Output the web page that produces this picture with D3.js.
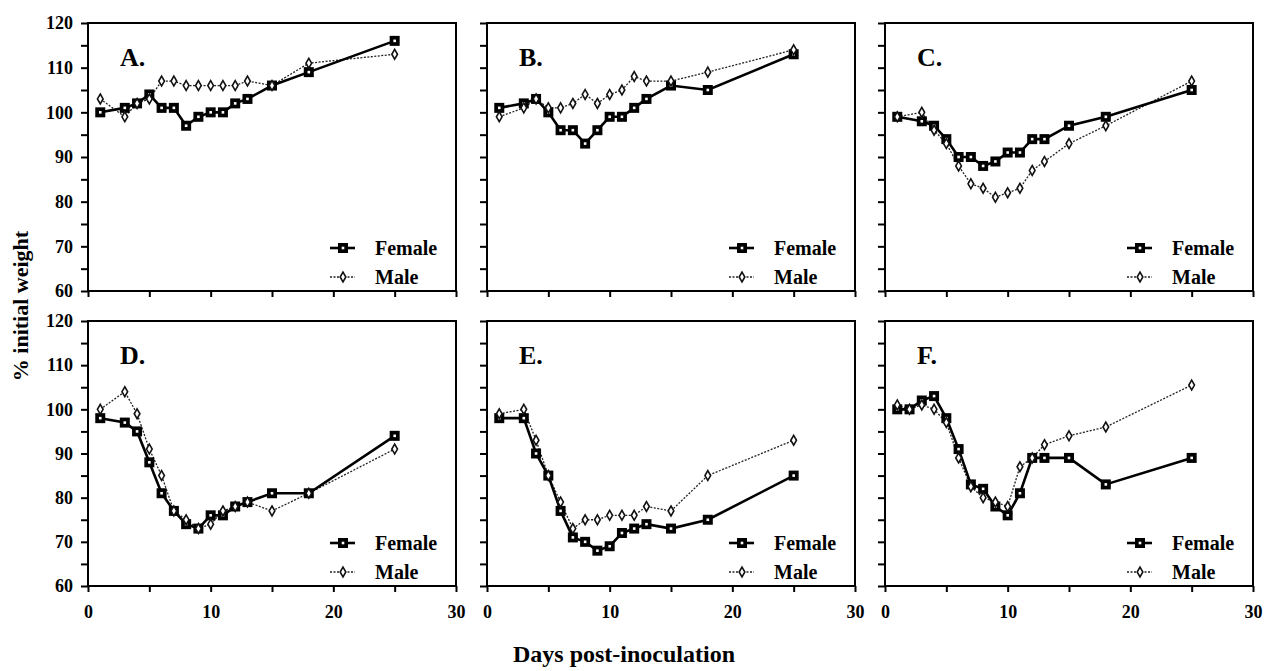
<!DOCTYPE html>
<html>
<head>
<meta charset="utf-8">
<script src="https://cdn.jsdelivr.net/npm/d3@7"></script>
<style>
  html, body { margin: 0; padding: 0; background: #fff; }
  svg { display: block; }
  text { font-family: "Liberation Serif", "Times New Roman", serif; font-weight: bold; fill: #000; }
</style>
</head>
<body>
<svg id="chart" width="1272" height="671"></svg>
<script>
// ---- data ----
const panelLabels = ["A.", "B.", "C.", "D.", "E.", "F."];
const days = [1, 3, 4, 5, 6, 7, 8, 9, 10, 11, 12, 13, 15, 18, 25];
const daysF = [1, 2, 3, 4, 5, 6, 7, 8, 9, 10, 11, 12, 13, 15, 18, 25];

const femaleA = [100, 101, 102, 104, 101, 101, 97, 99, 100, 100, 102, 103, 106, 109, 116];
const maleA   = [103, 99, 102, 103, 107, 107, 106, 106, 106, 106, 106, 107, 106, 111, 113];
const femaleB = [101, 102, 103, 100, 96, 96, 93, 96, 99, 99, 101, 103, 106, 105, 113];
const maleB   = [99, 101, 103, 101, 101, 102, 104, 102, 104, 105, 108, 107, 107, 109, 114];
const femaleC = [99, 98, 97, 94, 90, 90, 88, 89, 91, 91, 94, 94, 97, 99, 105];
const maleC   = [99, 100, 96, 93, 88, 84, 83, 81, 82, 83, 87, 89, 93, 97, 107];
const femaleD = [98, 97, 95, 88, 81, 77, 74, 73, 76, 76, 78, 79, 81, 81, 94];
const maleD   = [100, 104, 99, 91, 85, 77, 75, 73, 74, 77, 78, 79, 77, 81, 91];
const femaleE = [98, 98, 90, 85, 77, 71, 70, 68, 69, 72, 73, 74, 73, 75, 85];
const maleE   = [99, 100, 93, 85, 79, 73, 75, 75, 76, 76, 76, 78, 77, 85, 93];
const femaleF = [100, 100, 102, 103, 98, 91, 83, 82, 78, 76, 81, 89, 89, 89, 83, 89];
const maleF   = [101, 100, 101, 100, 97, 89, 82.5, 80, 79, 78, 87, 89, 92, 94, 96, 105.5];

const xTicks = [0, 5, 10, 15, 20, 25, 30];
const xTickLabels = [0, 10, 20, 30];
const yTicks = [60, 65, 70, 75, 80, 85, 90, 95, 100, 105, 110, 115, 120];
const yTickLabels = [60, 70, 80, 90, 100, 110, 120];
const legendNames = ["Female", "Male"];
const xTitle = "Days post-inoculation";
const yTitle = "% initial weight";

const panels = [
  { label: panelLabels[0], days: days,  female: femaleA, male: maleA },
  { label: panelLabels[1], days: days,  female: femaleB, male: maleB },
  { label: panelLabels[2], days: days,  female: femaleC, male: maleC },
  { label: panelLabels[3], days: days,  female: femaleD, male: maleD },
  { label: panelLabels[4], days: days,  female: femaleE, male: maleE },
  { label: panelLabels[5], days: daysF, female: femaleF, male: maleF }
];

// ---- layout ----
const colLeft = [88, 487, 885];
const panelW = 368;
const rowTop = [23, 321];
const rowBottom = [291, 586];

const svg = d3.select("#chart");

function drawFemaleMarker(g, x, y) {
  g.append("rect").attr("x", x - 5).attr("y", y - 5).attr("width", 10).attr("height", 10)
    .attr("fill", "#000");
  g.append("rect").attr("x", x - 1.3).attr("y", y - 1.3).attr("width", 2.6).attr("height", 2.6)
    .attr("fill", "#fff");
}
const diamond = d3.symbol().type(d3.symbolDiamond).size(28);
function drawMaleMarker(g, x, y) {
  g.append("path").attr("d", diamond).attr("transform", `translate(${x},${y})`)
    .attr("fill", "#fff").attr("stroke", "#111").attr("stroke-width", 1.6);
}

panels.forEach((p, i) => {
  const col = i % 3, row = Math.floor(i / 3);
  const left = colLeft[col], top = rowTop[row], bottom = rowBottom[row];
  const x = d3.scaleLinear().domain([0, 30]).range([left, left + panelW]);
  const y = d3.scaleLinear().domain([60, 120]).range([bottom, top]);
  const g = svg.append("g");

  // frame
  g.append("rect").attr("x", left).attr("y", top).attr("width", panelW).attr("height", bottom - top)
    .attr("fill", "none").attr("stroke", "#000").attr("stroke-width", 2);

  // y axis
  const yAxis = d3.axisLeft(y).tickValues(yTicks).tickSize(7).tickPadding(8)
    .tickFormat(d => (col === 0 && yTickLabels.includes(d)) ? d : "");
  const ya = g.append("g").attr("transform", `translate(${left},0)`).call(yAxis);
  ya.select(".domain").remove();
  ya.selectAll(".tick line").attr("stroke", "#000").attr("stroke-width", 2);
  ya.selectAll(".tick text").style("font-size", "18px").style("font-family", "Liberation Serif").style("font-weight", "bold");

  // x axis
  const xAxis = d3.axisBottom(x).tickValues(xTicks).tickSize(6).tickPadding(13)
    .tickFormat(d => (row === 1 && xTickLabels.includes(d)) ? d : "");
  const xa = g.append("g").attr("transform", `translate(0,${bottom})`).call(xAxis);
  xa.select(".domain").remove();
  xa.selectAll(".tick line").attr("stroke", "#000").attr("stroke-width", 2);
  xa.selectAll(".tick text").style("font-size", "18px").style("font-family", "Liberation Serif").style("font-weight", "bold");

  const maleData = p.days.map((d, k) => [d, p.male[k]]);
  const femaleData = p.days.map((d, k) => [d, p.female[k]]);
  const line = d3.line().x(d => x(d[0])).y(d => y(d[1]));

  g.append("path").datum(maleData).attr("d", line).attr("fill", "none")
    .attr("stroke", "#222").attr("stroke-width", 1.3).attr("stroke-dasharray", "2,1.5");
  g.append("path").datum(femaleData).attr("d", line).attr("fill", "none")
    .attr("stroke", "#000").attr("stroke-width", 2.6);

  femaleData.forEach(d => drawFemaleMarker(g, x(d[0]), y(d[1])));
  maleData.forEach(d => drawMaleMarker(g, x(d[0]), y(d[1])));

  // panel label
  g.append("text").attr("x", left + 32).attr("y", top + 43).text(p.label)
    .style("font-size", "26px");

  // legend
  const lx1 = left + 242, lx2 = left + 267, lxm = left + 255, tx = left + 287;
  const fy = bottom - 43, my = bottom - 14;
  g.append("line").attr("x1", lx1).attr("x2", lx2).attr("y1", fy).attr("y2", fy)
    .attr("stroke", "#000").attr("stroke-width", 2.6);
  drawFemaleMarker(g, lxm, fy);
  g.append("text").attr("x", tx).attr("y", fy + 7).text(legendNames[0]).style("font-size", "20px");
  g.append("line").attr("x1", lx1).attr("x2", lx2).attr("y1", my).attr("y2", my)
    .attr("stroke", "#222").attr("stroke-width", 1.3).attr("stroke-dasharray", "2,1.5");
  drawMaleMarker(g, lxm, my);
  g.append("text").attr("x", tx).attr("y", my + 7).text(legendNames[1]).style("font-size", "20px");
});

// axis titles
svg.append("text").attr("x", 624).attr("y", 662).attr("text-anchor", "middle")
  .text(xTitle).style("font-size", "24px");
svg.append("text").attr("transform", "translate(28,306) rotate(-90)").attr("text-anchor", "middle")
  .text(yTitle).style("font-size", "22px");
</script>
</body>
</html>
